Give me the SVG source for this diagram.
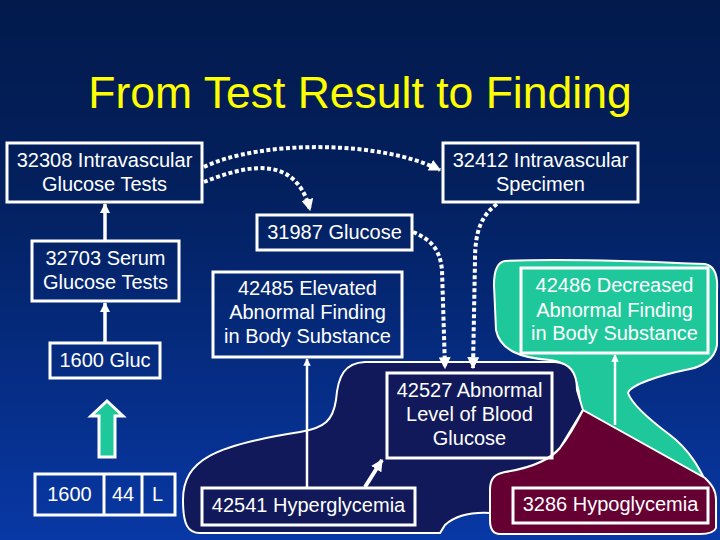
<svg xmlns="http://www.w3.org/2000/svg" width="720" height="540" viewBox="0 0 720 540">
<defs>
<linearGradient id="bg" x1="0" y1="0" x2="0" y2="1">
<stop offset="0" stop-color="#021a4c"/>
<stop offset="0.35" stop-color="#03205e"/>
<stop offset="1" stop-color="#0838a5"/>
</linearGradient>
<marker id="dot" viewBox="0 0 10 10" refX="9" refY="5" markerWidth="3" markerHeight="3" orient="auto" markerUnits="strokeWidth">
<path d="M0,0 L10,5 L0,10 Z" fill="#fff"/>
</marker>
<marker id="sol" viewBox="0 0 10 10" refX="9" refY="5" markerWidth="3" markerHeight="3" orient="auto" markerUnits="strokeWidth">
<path d="M0,0 L10,5 L0,10 Z" fill="#fff"/>
</marker>
<style>
text{font-family:"Liberation Sans",Arial,sans-serif;font-size:20px;fill:#fff;text-anchor:middle}
.box{fill:none;stroke:#fff;stroke-width:3}
.blob{stroke:#fff;stroke-width:2}
.dotted{fill:none;stroke:#fff;stroke-width:4;stroke-dasharray:4 2.5;marker-end:url(#dot)}
.solid{fill:none;stroke:#fff;stroke-width:2.5;marker-end:url(#sol)}
</style>
</defs>
<rect width="720" height="540" fill="url(#bg)"/>
<text x="360" y="108" style="font-size:44.5px;fill:#ffff00">From Test Result to Finding</text>

<g id="blobs">
<path id="teal-blob" class="blob" fill="#1fc89b" d="M505,261 C560,258 660,262 705,264 C715,266 718,275 717,290 L717,345 C715,360 700,367 690,369 C660,375 630,385 628,393 C632,405 650,420 670,435 C690,450 700,470 705,480 L705,500 L580,500 L580,400 C577,375 570,362 550,360 C520,358 500,350 496,330 L494,285 C494,270 498,262 505,261 Z"/>
<path id="navy-blob" class="blob" fill="#12195a" d="M183,500 C183,460 215,445 300,432 C325,428 333,420 336,400 C338,375 345,363 365,362 L555,362 C570,363 577,372 577,390 L583,410 L560,448 C545,465 520,470 500,474 L490,490 L490,513 C470,512 455,516 445,525 L440,533 L200,533 C188,533 183,525 183,500 Z"/>
<path id="maroon-blob" class="blob" fill="#660033" d="M583,410 L705,478 C712,485 716,490 716,500 L716,528 C714,533 705,534 700,534 L500,534 C492,534 490,528 490,520 L490,490 C490,478 495,474 505,472 C530,468 550,460 560,448 C570,435 578,420 583,410 Z"/>
</g>

<g id="connectors">
<path class="solid" style="stroke-width:3.5" d="M105,241 L105,204"/>
<path class="solid" style="stroke-width:3.5" d="M105,343 L105,303"/>
<path class="solid" d="M307,488 L307,359"/>
<path class="solid" d="M615,425 L615,355"/>
<path class="solid" style="stroke-width:4" d="M365,487 L382,460"/>
<path class="dotted" d="M204,167 C260,140 380,140 440,170"/>
<path class="dotted" d="M204,182 C240,168 295,150 310,210"/>
<path class="dotted" d="M413,232 C432,240 440,250 442,270 L445,368"/>
<path class="dotted" d="M497,204 C482,215 475,230 475,260 L473,368"/>
</g>

<g id="n32308"><rect class="box" x="7" y="143" width="195" height="59"/><text x="104.5" y="166.5">32308 Intravascular</text><text x="104.5" y="191">Glucose Tests</text></g>
<g id="n32412"><rect class="box" x="443" y="143" width="195" height="59"/><text x="540.5" y="166.5">32412 Intravascular</text><text x="540.5" y="191">Specimen</text></g>
<g id="n32703"><rect class="box" x="32" y="241" width="147" height="60"/><text x="105.5" y="265">32703 Serum</text><text x="105.5" y="289">Glucose Tests</text></g>
<g id="n1600gluc"><rect class="box" x="50" y="343" width="110" height="35"/><text x="105" y="367">1600 Gluc</text></g>
<g id="n31987"><rect class="box" x="257" y="215" width="155" height="35"/><text x="334.5" y="238.5">31987 Glucose</text></g>
<g id="n42485"><rect class="box" x="213" y="272" width="189" height="85"/><text x="307.5" y="295">42485 Elevated</text><text x="307.5" y="319">Abnormal Finding</text><text x="307.5" y="343">in Body Substance</text></g>
<g id="n42486"><rect class="box" x="521" y="268" width="187" height="85" fill="#1fc89b"/><text x="614.5" y="292">42486 Decreased</text><text x="614.5" y="316.5">Abnormal Finding</text><text x="614.5" y="340">in Body Substance</text></g>
<g id="n42527"><rect class="box" x="387" y="373" width="165" height="85" fill="#12195a"/><text x="469.5" y="397">42527 Abnormal</text><text x="469.5" y="421">Level of Blood</text><text x="469.5" y="444.5">Glucose</text></g>
<g id="n42541"><rect class="box" x="202" y="488" width="213" height="37" fill="#12195a"/><text x="308.5" y="512">42541 Hyperglycemia</text></g>
<g id="n3286"><rect class="box" x="513" y="488" width="195" height="35" fill="#660033"/><text x="610.5" y="511">3286 Hypoglycemia</text></g>
<g id="n1600row"><rect class="box" x="35" y="474" width="140" height="41"/><line x1="104" y1="474" x2="104" y2="515" stroke="#fff" stroke-width="3"/><line x1="142" y1="474" x2="142" y2="515" stroke="#fff" stroke-width="3"/><text x="69.5" y="501">1600</text><text x="123" y="501">44</text><text x="157.5" y="501">L</text></g>
<g id="uparrow"><polygon points="107,401 123,416 115,416 115,457 99,457 99,416 91,416" fill="#1fc89b" stroke="#fff" stroke-width="3" stroke-linejoin="miter"/></g>
</svg>
